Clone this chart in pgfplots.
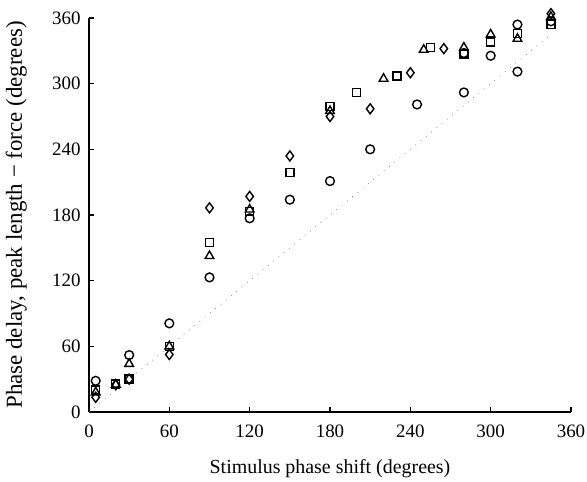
\documentclass[border=0pt]{standalone}
\usepackage{fontspec}
\setmainfont{Liberation Serif}
\usepackage{pgfplots}
\pgfplotsset{compat=1.18}
\begin{document}
\begin{tikzpicture}
\path[use as bounding box] (-89bp,-70bp) rectangle (498bp,412bp);
\begin{axis}[
  at={(0,0)}, anchor=south west,
  scale only axis, width=482bp, height=394bp,
  xmin=0, xmax=360, ymin=0, ymax=360,
  axis lines=left,
  axis line style={line width=2.3bp, -},
  xtick={0,60,...,360}, ytick={0,60,...,360},
  tick align=inside, major tick length=5bp,
  tick style={line width=1.6bp, black},
  clip=false,
  /pgf/number format/assume math mode=true,
  ticklabel style={font=\fontsize{19}{22}\selectfont},
  xticklabel style={yshift=-9bp},
  yticklabel style={xshift=-5bp},
  xlabel={Stimulus phase shift (degrees)},
  ylabel={Phase delay, peak length − force (degrees)},
  xlabel style={font=\fontsize{20}{24}\selectfont, at={(axis description cs:0.5,-0.157)}, anchor=base},
  ylabel style={font=\fontsize{23}{27}\selectfont, at={(axis description cs:-0.139,0.5)}, anchor=base},
  mark options={solid, draw=black, fill=none, line width=1.4bp},
]
\addplot[gray, line width=0.7bp, dash pattern=on 0.8bp off 6bp] coordinates {(0,0) (345,345)};
% circles
\addplot[only marks, mark=o, mark size=4.4bp] coordinates {
(5,28.5) (30,52) (60,81) (90,123) (120,177) (150,194) (180,211) (210,240)
(245,281) (280,292) (280,328) (300,325.5) (320,311) (320,354) (345,357)};
% squares
\addplot[only marks, mark=square, mark size=4bp] coordinates {
(5,20) (20,25.5) (30,30) (60,60) (90,155) (120,183) (150,219) (180,279)
(200,292) (230,307) (255,333) (280,327) (300,338) (320,346) (345,354)};
% triangles
\addplot[only marks, mark=triangle, mark size=5bp] coordinates {
(5,18) (20,25) (30,44) (60,60) (90,142.5) (120,185) (180,275) (220,304.5)
(250,331) (280,333) (300,345) (320,341) (345,361)};
% diamonds
\addplot[only marks, mark=diamond, mark size=5bp] coordinates {
(5,13.4) (20,25) (30,30) (60,52.5) (90,186.5) (120,197) (150,234) (180,270)
(210,277) (240,310) (265,332) (345,364)};
\end{axis}
\end{tikzpicture}
\end{document}
